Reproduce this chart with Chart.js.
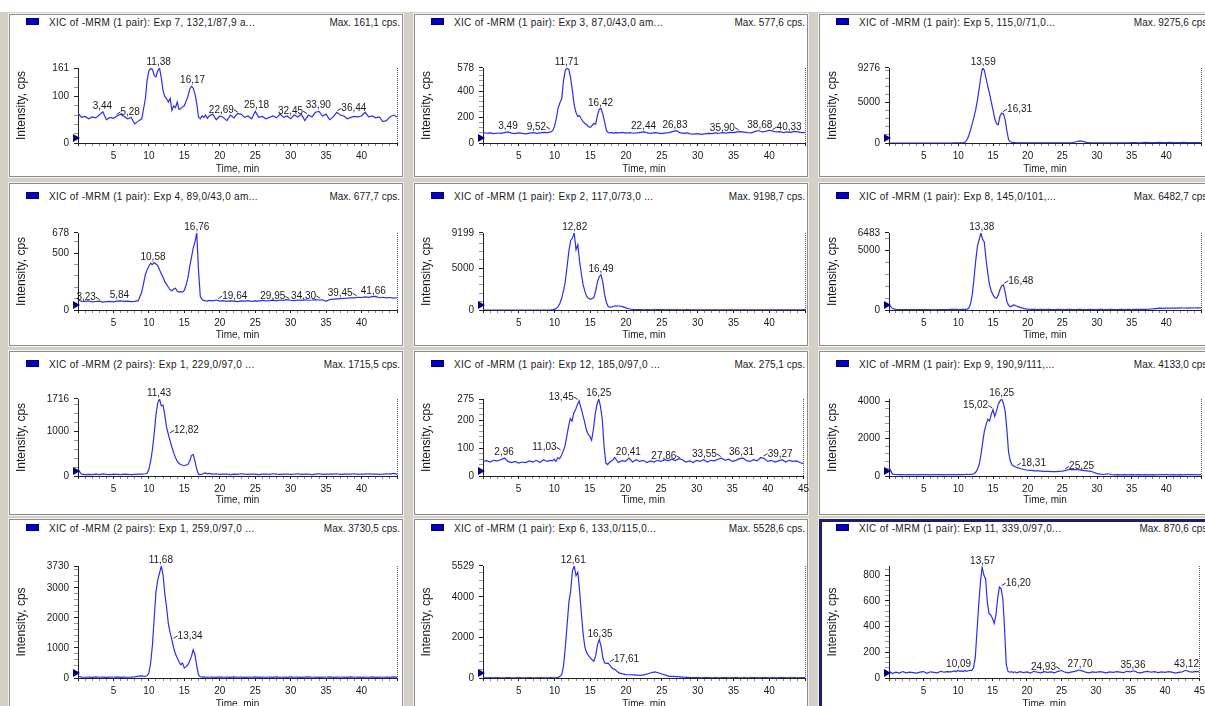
<!DOCTYPE html>
<html><head><meta charset="utf-8">
<script src="https://cdn.jsdelivr.net/npm/chart.js@4.4.1/dist/chart.umd.min.js"></script>
<style>
html,body{margin:0;padding:0;}
body{width:1205px;height:706px;overflow:hidden;position:relative;background:#fff;font-family:"Liberation Sans",Arial,sans-serif;}
#bg{position:absolute;left:0;top:12px;width:1205px;height:694px;background:#d4d0c8;}
.panel{position:absolute;background:#fff;border:1px solid #8c8c8c;box-sizing:border-box;box-shadow:0 0 0 1px #f4f3f0;}
.panel.sel{border:3px solid #1c1c78;}
.leg{position:absolute;width:13px;height:7px;background:#0000c8;border:1px solid #00005a;box-sizing:border-box;}
.ttl,.mx{position:absolute;font-size:10px;line-height:11px;color:#1a1a1a;white-space:nowrap;}
.ttl{letter-spacing:0.3px;}
canvas{position:absolute;}
</style></head><body>
<div id="bg"></div>
<script>
// ---------- data ----------
const times = [0,0.5,1,1.5,2,2.5,3,3.5,4,4.5,5,5.5,6,6.5,7,7.5,8,8.5,9,9.5,
9.75,10,10.25,10.5,10.75,11,11.25,11.5,11.75,12,12.25,12.5,12.75,13,13.25,13.5,13.75,14,14.25,14.5,14.75,15,15.25,15.5,15.75,16,16.25,16.5,16.75,17,17.25,17.5,17.75,18,18.25,18.5,
19,19.5,20,20.5,21,21.5,22,22.5,23,23.5,24,24.5,25,25.5,26,26.5,27,27.5,28,28.5,29,29.5,30,30.5,31,31.5,32,32.5,33,33.5,34,34.5,35,35.5,36,36.5,37,37.5,38,38.5,39,39.5,40,40.5,41,41.5,42,42.5,43,43.5,44,44.5,45];

const exp7 = [64,55,57,52,56,54,60,67,50,55,53,58,62,57,52,55,41,47,52,95,
135,155,160,158,145,142,155,161,140,112,100,95,88,96,70,80,76,88,72,74,78,80,90,100,115,122,118,105,85,56,52,58,55,60,53,58,
62,50,58,55,48,60,54,63,62,55,58,52,68,55,57,52,55,58,54,62,55,58,52,60,56,62,48,60,56,66,68,58,62,50,56,66,60,58,52,55,57,56,58,66,56,58,54,56,46,48,56,60,56];
const exp3 = [80,75,78,72,77,74,80,85,76,72,78,74,70,76,80,74,78,82,80,86,
95,130,190,270,310,340,480,560,578,565,500,400,290,235,205,210,185,165,150,140,125,120,135,150,145,215,260,265,220,160,95,80,78,82,75,80,
78,82,76,80,75,78,82,85,78,74,80,76,72,78,80,88,95,80,74,78,70,68,72,66,70,74,72,78,75,80,76,82,80,86,88,84,80,78,88,96,85,90,98,92,85,88,80,86,82,90,85,80,82];
const exp5 = [0,0,0,0,0,0,0,0,0,0,0,0,0,0,0,0,0,0,0,10,
10,15,20,30,60,120,400,900,1600,2400,3200,4100,5300,6700,8200,9276,9000,8000,7000,6100,5100,4100,3000,2400,2250,3300,3700,3600,2900,1500,400,150,80,60,40,30,
20,15,10,10,10,10,10,10,10,10,10,10,10,10,20,60,150,250,200,80,30,10,10,10,10,10,10,10,10,10,10,20,40,60,30,50,80,40,60,50,70,40,60,80,50,60,40,70,50,60,40,60,50];
const exp4 = [88,78,76,80,72,75,78,70,74,76,72,78,80,76,78,74,76,82,160,310,
355,385,410,400,418,405,390,355,320,285,250,225,200,178,170,185,192,165,158,162,158,175,220,280,380,460,545,600,678,350,120,92,85,80,78,84,
80,88,78,82,76,80,78,74,80,78,82,76,80,78,84,80,82,86,80,88,84,92,86,82,88,85,90,86,88,92,88,90,76,92,96,98,100,102,104,108,106,112,110,116,112,118,120,108,112,106,110,104,108];
const exp2 = [0,0,0,0,0,0,0,0,0,0,0,0,0,0,0,0,0,0,0,20,
40,80,200,400,800,1400,2300,3400,5200,7000,8300,8600,9199,7200,7800,5800,4300,3000,2200,1600,1400,1300,1350,1500,2300,3400,4000,4200,3300,1800,900,400,350,380,450,500,
480,400,250,120,60,40,40,30,40,30,40,50,40,30,40,30,50,30,20,40,30,20,20,30,20,30,20,30,20,30,20,30,20,30,20,20,30,20,30,20,30,20,30,20,30,20,20,30,20,30,20,30,40];
const exp8 = [450,120,60,40,40,30,30,40,30,30,30,30,30,20,30,30,30,40,60,50,
50,40,40,50,50,60,80,150,500,1270,2600,4100,5360,5930,6483,5950,5700,4240,3100,2120,1600,1270,1050,990,1250,1700,2050,2120,1500,700,400,280,350,420,380,300,
200,120,80,60,50,40,50,40,50,40,40,50,40,40,50,40,40,50,40,40,50,40,40,50,40,40,50,40,40,50,40,50,40,50,60,50,60,70,90,120,150,140,160,150,170,160,180,170,160,180,170,190,180];
const exp1a = [140,40,30,35,30,40,30,45,35,30,40,35,30,40,35,30,35,40,40,50,
60,150,330,590,950,1370,1630,1716,1560,1580,1350,1075,925,775,640,517,410,330,280,256,240,234,245,256,330,456,480,330,150,40,30,40,60,70,50,60,
40,50,35,40,45,30,40,35,50,40,35,45,40,30,40,45,35,50,40,35,40,45,35,40,50,35,40,45,30,40,50,35,40,45,40,50,35,40,45,40,50,35,45,40,50,40,45,35,40,50,40,60,40];
const exp12 = [52,55,50,56,54,58,64,52,48,52,46,50,48,54,50,56,48,58,52,56,
54,60,52,66,62,72,88,106,140,175,205,196,225,237,255,268,244,220,195,166,150,142,128,166,220,255,275,249,202,106,47,41,48,53,58,66,
48,55,52,64,50,58,52,56,48,54,50,56,52,58,54,60,55,62,58,50,54,48,56,52,58,50,56,54,60,64,56,60,52,56,62,64,55,52,58,54,66,62,52,56,50,54,58,50,56,52,54,48,44];
const exp9 = [450,100,80,70,80,60,70,80,60,70,80,70,60,70,80,70,60,80,70,80,
70,80,70,80,70,80,90,80,90,100,120,200,350,600,1100,1780,2400,2760,3050,2950,3300,3570,3200,3480,3840,4020,4133,3900,3480,2500,1250,800,600,530,480,450,
390,350,310,300,280,270,260,250,250,240,240,250,260,300,350,340,350,330,300,280,260,200,130,100,80,120,80,60,70,60,70,60,70,60,70,60,70,60,70,60,70,80,70,60,70,60,70,60,70,80,70,60,70];
const exp1b = [60,30,25,30,20,35,25,30,20,30,25,35,20,30,25,30,40,60,70,50,
80,165,500,1100,2000,2880,3260,3490,3730,3430,2800,2350,1800,1500,1270,1000,800,665,540,440,500,330,380,440,560,720,940,775,400,110,40,30,35,25,30,25,
30,20,35,25,30,20,35,25,30,20,30,25,35,20,30,25,30,20,35,25,30,20,35,25,30,20,30,35,25,30,20,30,25,35,20,30,25,30,20,35,25,30,20,30,25,35,20,30,25,30,20,35,30];
const exp6 = [20,10,15,10,15,10,10,15,10,10,15,10,10,15,10,10,15,10,10,15,
10,10,15,30,80,165,600,1490,2600,3730,4300,5300,5529,5050,5220,4300,3200,2150,1500,1240,1100,990,900,830,1100,1650,1900,1570,1000,745,720,730,620,500,450,410,
250,200,165,160,150,140,130,150,200,260,300,260,200,140,80,80,70,60,40,30,20,15,20,10,15,20,10,15,10,20,15,10,15,20,10,15,10,20,15,10,15,20,10,15,10,20,15,10,15,20,10,15,20];
const exp11 = [55,35,45,38,50,40,45,42,38,45,50,36,48,44,40,52,45,50,48,55,
48,60,52,55,50,58,52,56,60,58,80,155,360,565,745,860,800,770,590,500,490,463,425,490,618,707,695,618,386,103,51,45,50,42,48,40,
50,42,48,38,52,45,40,50,44,48,40,52,58,45,40,48,52,62,55,45,40,48,44,50,46,40,48,44,50,46,42,52,48,56,44,40,48,52,45,50,42,48,44,50,46,38,44,48,60,50,46,52,48];

const series = [exp7, exp3, exp5, exp4, exp2, exp8, exp1a, exp12, exp9, exp1b, exp6, exp11];

const titles = [
 "XIC of -MRM (1 pair): Exp 7, 132,1/87,9 a...",
 "XIC of -MRM (1 pair): Exp 3, 87,0/43,0 am...",
 "XIC of -MRM (1 pair): Exp 5, 115,0/71,0...",
 "XIC of -MRM (1 pair): Exp 4, 89,0/43,0 am...",
 "XIC of -MRM (1 pair): Exp 2, 117,0/73,0 ...",
 "XIC of -MRM (1 pair): Exp 8, 145,0/101,...",
 "XIC of -MRM (2 pairs): Exp 1, 229,0/97,0 ...",
 "XIC of -MRM (1 pair): Exp 12, 185,0/97,0 ...",
 "XIC of -MRM (1 pair): Exp 9, 190,9/111,...",
 "XIC of -MRM (2 pairs): Exp 1, 259,0/97,0 ...",
 "XIC of -MRM (1 pair): Exp 6, 133,0/115,0...",
 "XIC of -MRM (1 pair): Exp 11, 339,0/97,0..."];
const maxLabels = ["Max. 161,1 cps.","Max. 577,6 cps.","Max. 9275,6 cps.","Max. 677,7 cps.","Max. 9198,7 cps.","Max. 6482,7 cps.",
 "Max. 1715,5 cps.","Max. 275,1 cps.","Max. 4133,0 cps.","Max. 3730,5 cps.","Max. 5528,6 cps.","Max. 870,6 cps."];
const axisMax = [161.1,577.6,9275.6,677.7,9198.7,6482.7,1715.5,275.1,4133.0,3730.5,5528.6,870.6];
const yLabels = [[0,100,161],[0,200,400,578],[0,5000,9276],[0,500,678],[0,5000,9199],[0,5000,6483],
 [0,1000,1716],[0,100,200,275],[0,2000,4000],[0,1000,2000,3000,3730],[0,2000,4000,5529],[0,200,400,600,800]];
const yMinorStep = [20,40,1000,100,1000,1000,200,20,400,200,400,40];
const xLabels = [5,10,15,20,25,30,35,40,45];
const peakTimes = [
 [3.44,5.28,11.38,16.17,22.69,25.18,32.45,33.90,36.44],
 [3.49,9.52,11.71,16.42,22.44,26.83,35.90,38.68,40.33],
 [13.59,16.31],
 [3.23,5.84,10.58,16.76,19.64,29.95,34.30,39.45,41.66],
 [12.82,16.49],
 [13.38,16.48],
 [11.43,12.82],
 [2.96,11.03,13.45,16.25,20.41,27.86,33.55,36.31,39.27],
 [15.02,16.25,18.31,25.25],
 [11.68,13.34],
 [12.61,16.35,17.61],
 [10.09,13.57,16.20,24.93,27.70,35.36,43.12]];

// ---------- layout / style ----------
const labelSides = [
 ['c','r','c','c','l','c','l','c','r'],
 ['c','l','c','c','c','c','l','c','r'],
 ['c','r'],
 ['l','c','c','c','r','l','l','l','c'],
 ['c','c'],
 ['c','r'],
 ['c','r'],
 ['c','l','l','c','c','l','l','c','r'],
 ['l','c','r','r'],
 ['c','r'],
 ['c','c','r'],
 ['c','c','r','l','c','c','c']];
const show45 = [false,false,false,false,false,false,false,true,false,false,false,true];
const FONT = '"Liberation Sans", Arial, sans-serif';
const panelLeft = [9,414,819], panelW = 394;
const panelTop = [14,183,351,519], panelH = [163,163,164,200];
const plotLeft = [78,483,889], plotRight = [397,805,1201];
const plotTop = [68,233,399,566], zeroY = [143,310,476,678];
const titleCy = [23,197,365,529];
const xTitlePad = [1,2,3,1];
const Y_W = 66, PAD_T = 22, PAD_R = 8, X_H = 33;

const peakPlugin = {
  id: 'peakLabels',
  afterDatasetsDraw(chart, args, opts) {
    const {ctx} = chart, xs = chart.scales.x, ys = chart.scales.y;
    const pts = chart.data.datasets[0].data;
    ctx.save();
    ctx.font = '10px ' + FONT; ctx.fillStyle = '#1a1a1a'; ctx.strokeStyle = '#333'; ctx.lineWidth = 1;
    ctx.textBaseline = 'alphabetic';
    (opts.times || []).forEach((t, k) => {
      let v = 0;
      pts.forEach(p => { if (Math.abs(p.x - t) <= 0.3 && p.y > v) v = p.y; });
      const px = xs.getPixelForValue(t), py = ys.getPixelForValue(v);
      const txt = t.toFixed(2).replace('.', ',');
      const side = opts.sides[k];
      if (side === 'c') { ctx.textAlign = 'center'; ctx.fillText(txt, px, py - 3); }
      else if (side === 'r') {
        ctx.beginPath(); ctx.moveTo(px + 1, py - 1.5); ctx.lineTo(px + 5, py - 4); ctx.stroke();
        ctx.textAlign = 'left'; ctx.fillText(txt, px + 5, py - 1);
      } else {
        ctx.beginPath(); ctx.moveTo(px - 1, py - 1.5); ctx.lineTo(px - 5, py - 4); ctx.stroke();
        ctx.textAlign = 'right'; ctx.fillText(txt, px - 5, py - 1);
      }
    });
    ctx.restore();
  }
};
const framePlugin = {
  id: 'xicFrame',
  afterDraw(chart) {
    const {ctx, chartArea: a} = chart;
    ctx.save();
    ctx.strokeStyle = '#555'; ctx.lineWidth = 1; ctx.setLineDash([1, 1]);
    ctx.beginPath(); ctx.moveTo(Math.round(a.right) + 0.5, a.top); ctx.lineTo(Math.round(a.right) + 0.5, a.bottom); ctx.stroke();
    ctx.setLineDash([]);
    ctx.fillStyle = '#00007a';
    ctx.beginPath(); ctx.moveTo(a.left - 5, a.bottom - 9); ctx.lineTo(a.left - 5, a.bottom - 1); ctx.lineTo(a.left + 2, a.bottom - 5); ctx.closePath(); ctx.fill();
    ctx.restore();
  }
};

function el(cls, css, text) {
  const d = document.createElement('div'); d.className = cls;
  Object.assign(d.style, css); if (text) d.textContent = text;
  document.body.appendChild(d); return d;
}

series.forEach((vals, i) => {
  if (vals.length !== times.length) throw new Error('series ' + i + ' has ' + vals.length + ' values, expected ' + times.length);
  const r = Math.floor(i / 3), c = i % 3;
  el('panel' + (i === 11 ? ' sel' : ''), {left: panelLeft[c] + 'px', top: panelTop[r] + 'px', width: panelW + 'px', height: panelH[r] + 'px'});
  el('leg', {left: (panelLeft[c] + 17) + 'px', top: (titleCy[r] - 5) + 'px'});
  el('ttl', {left: (panelLeft[c] + 40) + 'px', top: (titleCy[r] - 6) + 'px'}, titles[i]);
  el('mx', {right: (1205 - (panelLeft[c] + 391)) + 'px', top: (titleCy[r] - 6) + 'px'}, maxLabels[i]);

  const cv = document.createElement('canvas');
  const left = plotLeft[c] - Y_W, top = plotTop[r] - PAD_T;
  const w = plotRight[c] + PAD_R - left, h = zeroY[r] + X_H - top;
  cv.width = w; cv.height = h;
  Object.assign(cv.style, {left: left + 'px', top: top + 'px', width: w + 'px', height: h + 'px'});
  document.body.appendChild(cv);

  const majors = yLabels[i], step = yMinorStep[i], ymax = axisMax[i];
  new Chart(cv, {
    type: 'line',
    data: {datasets: [{data: times.map((t, k) => ({x: t, y: vals[k]})), borderColor: '#2e2ef0', borderWidth: 1.2,
      pointRadius: 0, tension: 0, fill: false}]},
    options: {
      responsive: false, animation: false, devicePixelRatio: 1,
      layout: {padding: {top: PAD_T, right: PAD_R, left: 0, bottom: 0}},
      plugins: {legend: {display: false}, tooltip: {enabled: false},
        peakLabels: {times: peakTimes[i], sides: labelSides[i]}},
      scales: {
        x: {type: 'linear', min: 0, max: 45,
          afterFit(s) { s.height = X_H; },
          ticks: {stepSize: 1, autoSkip: false, maxRotation: 0, padding: 4, color: '#1a1a1a', font: {size: 10, family: FONT},
            callback(v) { return (xLabels.includes(v) && (v < 45 || show45[i])) ? String(v) : ''; }},
          grid: {drawOnChartArea: false, drawTicks: true, tickLength: 3,
            color(ctx) { return ctx.tick && ctx.tick.value % 5 === 0 ? '#222' : '#888'; }},
          border: {display: true, color: '#222', width: 1},
          title: {display: true, text: 'Time, min', color: '#1a1a1a', font: {size: 10, family: FONT}, padding: {top: 0, bottom: xTitlePad[r]}}
        },
        y: {type: 'linear', min: 0, max: ymax,
          afterFit(s) { s.width = Y_W; },
          afterBuildTicks(s) {
            const arr = [];
            for (let v = 0; v <= ymax; v += step) arr.push(v);
            majors.forEach(m => { if (!arr.includes(m)) arr.push(m); });
            arr.sort((a, b) => a - b);
            s.ticks = arr.map(v => ({value: v}));
          },
          ticks: {autoSkip: false, padding: 5, color: '#1a1a1a', font: {size: 10, family: FONT},
            callback(v) { return majors.includes(v) ? String(v) : ''; }},
          grid: {drawOnChartArea: false, drawTicks: true, tickLength: 4,
            color(ctx) { return ctx.tick && majors.includes(ctx.tick.value) ? '#222' : '#999'; }},
          border: {display: true, color: '#222', width: 1},
          title: {display: true, text: 'Intensity, cps', color: '#1a1a1a', font: {size: 12, family: FONT}, padding: {top: 2, bottom: 0}}
        }
      }
    },
    plugins: [peakPlugin, framePlugin]
  });
});
</script>
</body></html>
